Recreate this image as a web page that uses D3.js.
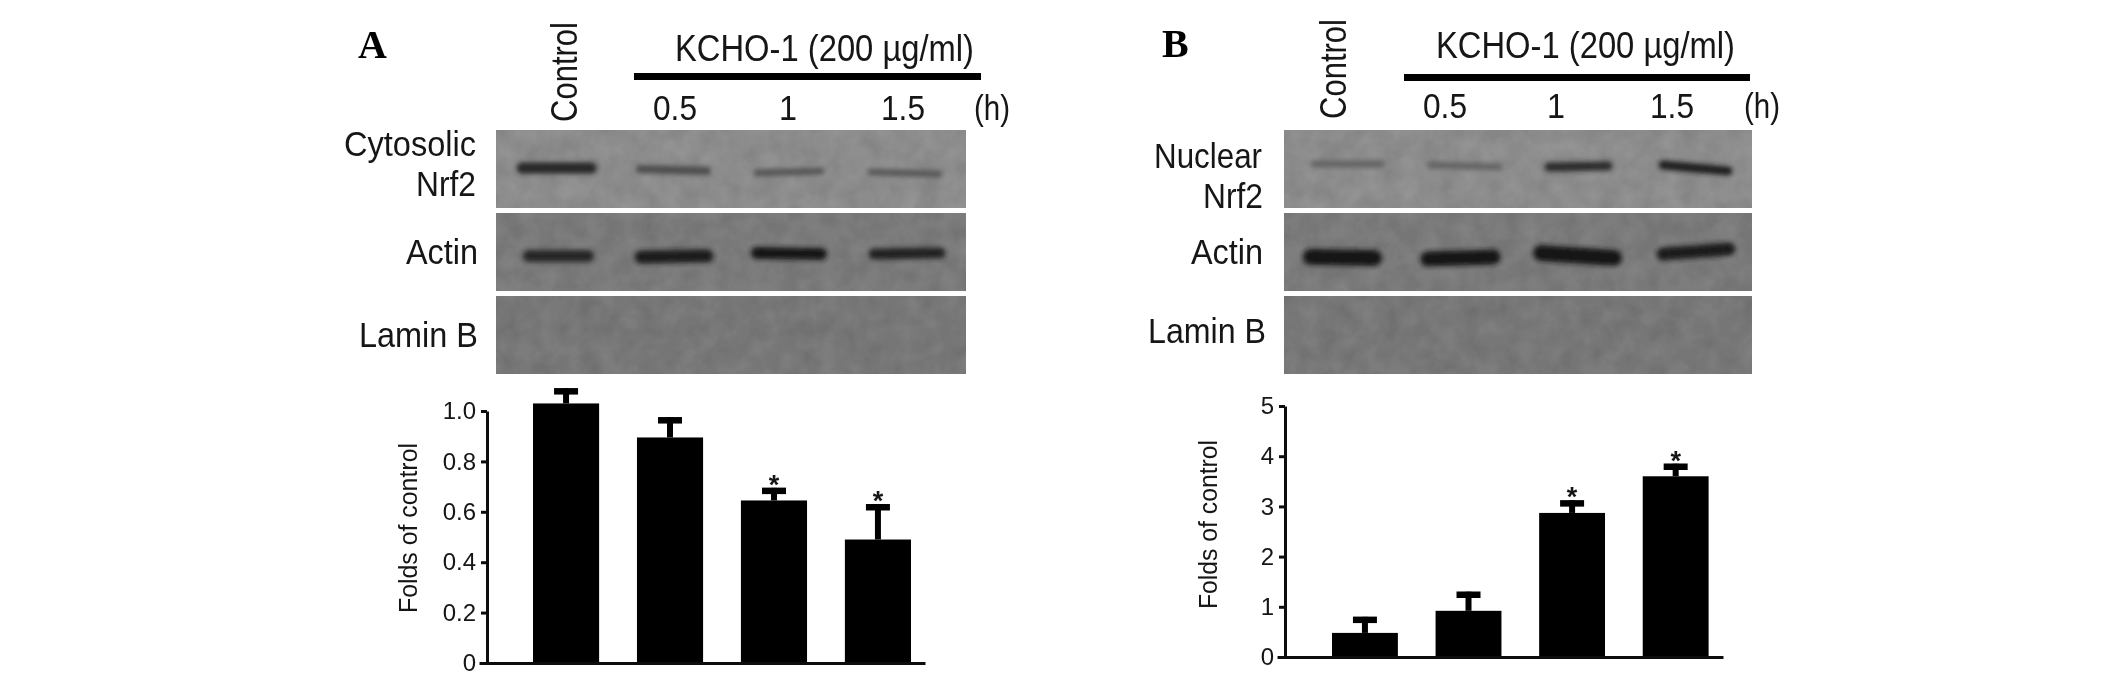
<!DOCTYPE html>
<html>
<head>
<meta charset="utf-8">
<script src="https://cdn.jsdelivr.net/npm/d3@7"></script>
<style>
html, body { margin: 0; padding: 0; background: #fff; }
svg { display: block; }
text { font-family: "Liberation Sans", Arial, sans-serif; fill: #141414; }
</style>
</head>
<body>
<div id="chart"></div>
<script>
// bar chart values
var groups = ['Control', '0.5', '1', '1.5'];
var foldsA = [1.03, 0.895, 0.645, 0.49];
var errTopA = [1.09, 0.975, 0.695, 0.63];
var sigA = [false, false, true, true];
var foldsB = [0.48, 0.92, 2.87, 3.6];
var errTopB = [0.8, 1.3, 3.12, 3.85];
var sigB = [false, false, true, true];
var ticksA = [0, 0.2, 0.4, 0.6, 0.8, 1.0];
var ticksB = [0, 1, 2, 3, 4, 5];

// band darkness per lane, read from the blots (0 = background, 1 = black)
var cytosolicNrf2 = [0.8, 0.5, 0.42, 0.4];
var nuclearNrf2 = [0.3, 0.3, 0.75, 0.85];
var actinA = [0.8, 0.88, 0.9, 0.82];
var actinB = [0.92, 0.9, 0.92, 0.88];
var laminB = [0, 0, 0, 0];

var svg = d3.select('#chart').append('svg')
	.attr('width', 2126)
	.attr('height', 680);

var defs = svg.append('defs');

// mottled gel background
var gel = defs.append('filter').attr('id', 'gel')
	.attr('x', 0).attr('y', 0).attr('width', 1).attr('height', 1)
	.attr('color-interpolation-filters', 'sRGB');
gel.append('feTurbulence').attr('type', 'fractalNoise')
	.attr('baseFrequency', 0.05).attr('numOctaves', 3).attr('seed', 4).attr('result', 'n');
gel.append('feColorMatrix').attr('in', 'n').attr('type', 'matrix')
	.attr('values', '1 0 0 0 0  1 0 0 0 0  1 0 0 0 0  0 0 0 0 1').attr('result', 'g');
gel.append('feComposite').attr('in', 'SourceGraphic').attr('in2', 'g')
	.attr('operator', 'arithmetic')
	.attr('k1', 0).attr('k2', 1).attr('k3', 0.09).attr('k4', -0.045);

// flat bands have an empty bbox, so the blur region has to be in page units
defs.append('filter').attr('id', 'bandBlur')
	.attr('filterUnits', 'userSpaceOnUse')
	.attr('x', 0).attr('y', 0).attr('width', 2126).attr('height', 680)
	.append('feGaussianBlur').attr('stdDeviation', 2.4);

defs.append('filter').attr('id', 'soft')
	.attr('filterUnits', 'userSpaceOnUse')
	.attr('x', 0).attr('y', 0).attr('width', 2126).attr('height', 680)
	.append('feGaussianBlur').attr('stdDeviation', 0.45);

var root = svg.append('g').attr('filter', 'url(#soft)');

var bandLine = d3.line().curve(d3.curveBasis);

function label(g, str, x, y, size, len, rotate) {
	var t = g.append('text')
		.attr('font-size', size)
		.attr('textLength', len)
		.attr('lengthAdjust', 'spacingAndGlyphs')
		.text(str);
	if (rotate) {
		t.attr('transform', 'translate(' + x + ',' + y + ') rotate(-90)');
	} else {
		t.attr('x', x).attr('y', y);
	}
	return t;
}

function drawHeader(g, p) {
	g.append('text')
		.attr('x', p.letter[0]).attr('y', p.letter[1])
		.attr('font-size', 40)
		.attr('font-weight', 'bold')
		.style('font-family', '"Liberation Serif", serif')
		.style('fill', '#000')
		.text(p.letter[2]);
	label(g, groups[0], p.control[0], p.control[1], 37, p.control[2], true);
	label(g, 'KCHO-1 (200 µg/ml)', p.kcho[0], p.kcho[1], 36, 299);
	g.append('rect')
		.attr('x', p.rule[0]).attr('y', p.rule[1])
		.attr('width', p.rule[2]).attr('height', 7)
		.attr('fill', '#000');
	p.hours.forEach(function (h, i) {
		var wide = groups[i + 1].length > 1 ? 44 : 18;
		label(g, groups[i + 1], h - wide / 2, p.hourY, 35, wide);
	});
	label(g, '(h)', p.hUnit - 18, p.hourY, 35, 36);
	p.rowLabels.forEach(function (d) {
		label(g, d[0], d[1], d[2], 35, d[3]);
	});
}

function drawBlot(g, p) {
	var rows = [
		{ y: 130, h: 78, fill: '#8c8c8c', dark: p.row1, geo: p.geo1 },
		{ y: 213, h: 78, fill: '#7a7a7a', dark: p.row2, geo: p.geo2 },
		{ y: 296, h: 78, fill: '#777777', dark: laminB, geo: p.geo2 }
	];
	var shade = d3.scaleLinear().domain([0, 1]).range(['#8a8a8a', '#0c0c0c']);
	rows.forEach(function (r) {
		g.append('rect')
			.attr('x', p.blot[0]).attr('y', r.y)
			.attr('width', p.blot[1] - p.blot[0]).attr('height', r.h)
			.attr('fill', r.fill)
			.attr('filter', 'url(#gel)');
		g.selectAll(null)
			.data(r.dark.map(function (v, i) { return { v: v, geo: r.geo[i] }; }).filter(function (d) { return d.v > 0; }))
			.enter().append('path')
			.attr('d', function (d) {
				var x0 = d.geo[0], x1 = d.geo[1];
				return bandLine([[x0, d.geo[2]], [(x0 + x1) / 2, (d.geo[2] + d.geo[3]) / 2], [x1, d.geo[3]]]);
			})
			.attr('fill', 'none')
			.attr('stroke', function (d) { return shade(d.v); })
			.attr('stroke-width', function (d) { return d.geo[4]; })
			.attr('stroke-linecap', 'round')
			.attr('filter', 'url(#bandBlur)');
	});
}

function drawBars(g, p) {
	var x = d3.scaleBand().domain(groups).range(p.barRange).paddingInner(0.364).paddingOuter(0);
	var y = d3.scaleLinear().domain(p.domain).range(p.yRange);
	var table = groups.map(function (name, i) {
		return { name: name, v: p.values[i], err: p.errTop[i], sig: p.sig[i] };
	});

	// stems and caps go under the bars
	g.selectAll('.stem').data(table).enter().append('line')
		.attr('class', 'stem')
		.attr('x1', function (d) { return x(d.name) + x.bandwidth() / 2; })
		.attr('x2', function (d) { return x(d.name) + x.bandwidth() / 2; })
		.attr('y1', function (d) { return y(d.v); })
		.attr('y2', function (d) { return y(d.err); })
		.attr('stroke', '#000')
		.attr('stroke-width', 6);
	g.selectAll('.cap').data(table).enter().append('line')
		.attr('class', 'cap')
		.attr('x1', function (d) { return x(d.name) + x.bandwidth() / 2 - 12; })
		.attr('x2', function (d) { return x(d.name) + x.bandwidth() / 2 + 12; })
		.attr('y1', function (d) { return y(d.err) + 3; })
		.attr('y2', function (d) { return y(d.err) + 3; })
		.attr('stroke', '#000')
		.attr('stroke-width', 6.5);
	g.selectAll('.bar').data(table).enter().append('rect')
		.attr('class', 'bar')
		.attr('x', function (d) { return x(d.name); })
		.attr('y', function (d) { return y(d.v); })
		.attr('width', x.bandwidth())
		.attr('height', function (d) { return y(0) - y(d.v); })
		.attr('fill', '#000');
	g.selectAll('.star').data(table.filter(function (d) { return d.sig; })).enter().append('text')
		.attr('class', 'star')
		.attr('x', function (d) { return x(d.name) + x.bandwidth() / 2; })
		.attr('y', function (d) { return y(d.err) + 6; })
		.attr('font-size', 27)
		.attr('font-weight', 'bold')
		.attr('text-anchor', 'middle')
		.text('*');

	var yAxis = d3.axisLeft(y)
		.tickValues(p.ticks)
		.tickSize(6)
		.tickSizeOuter(0)
		.tickPadding(5)
		.tickFormat(p.fmt);
	var ax = g.append('g')
		.attr('transform', 'translate(' + p.axisX + ',0)')
		.call(yAxis);
	ax.select('.domain').attr('stroke', '#111').attr('stroke-width', 3);
	ax.selectAll('.tick line').attr('stroke', '#111').attr('stroke-width', 3);
	ax.selectAll('.tick text').attr('font-size', 24).style('fill', '#141414')
		.style('font-family', '"Liberation Sans", Arial, sans-serif');

	// baseline runs past the last bar
	var xAxis = d3.axisBottom(d3.scaleLinear().domain([0, 1]).range([p.axisX - 8, p.baseEnd]))
		.tickValues([]).tickSizeOuter(0);
	var bx = g.append('g').attr('transform', 'translate(0,' + y(0) + ')').call(xAxis);
	bx.select('.domain').attr('stroke', '#111').attr('stroke-width', 3);

	label(g, 'Folds of control', p.ylabel[0], p.ylabel[1], 26, p.ylabel[2], true);
}

var panelA = root.append('g');
drawHeader(panelA, {
	letter: [358, 58, 'A'],
	control: [577, 122, 100],
	kcho: [675, 61],
	rule: [634, 73, 347],
	hours: [675, 788, 903],
	hUnit: 992,
	hourY: 120,
	rowLabels: [['Cytosolic', 344, 156, 132], ['Nrf2', 416, 196, 60], ['Actin', 406, 264, 72], ['Lamin B', 359, 347, 119]]
});
drawBlot(panelA, {
	blot: [496, 966],
	row1: cytosolicNrf2,
	row2: actinA,
	geo1: [[522, 591, 168, 168, 11], [640, 707, 169, 171, 8], [757, 821, 173, 171, 7], [871, 939, 172, 174, 7]],
	geo2: [[529, 588, 256, 256, 12], [641, 707, 257, 256, 13], [757, 821, 253, 254, 12], [874, 940, 254, 253, 11]]
});
drawBars(panelA, {
	barRange: [533, 911],
	domain: [0, 1],
	yRange: [663, 411],
	values: foldsA,
	errTop: errTopA,
	sig: sigA,
	ticks: ticksA,
	fmt: function (d) { return d === 0 ? '0' : d3.format('.1f')(d); },
	axisX: 487,
	baseEnd: 925,
	ylabel: [417, 613, 170]
});

var panelB = root.append('g');
drawHeader(panelB, {
	letter: [1162, 57, 'B'],
	control: [1346, 119, 100],
	kcho: [1436, 58],
	rule: [1404, 74, 346],
	hours: [1445, 1556, 1672],
	hUnit: 1762,
	hourY: 118,
	rowLabels: [['Nuclear', 1154, 168, 108], ['Nrf2', 1203, 208, 60], ['Actin', 1191, 264, 72], ['Lamin B', 1148, 343, 118]]
});
drawBlot(panelB, {
	blot: [1284, 1752],
	row1: nuclearNrf2,
	row2: actinB,
	geo1: [[1314, 1381, 164, 164, 7], [1431, 1499, 165, 167, 7], [1549, 1608, 167, 166, 9], [1663, 1728, 165, 171, 9]],
	geo2: [[1311, 1374, 257, 258, 16], [1428, 1493, 259, 257, 15], [1541, 1614, 253, 258, 16], [1663, 1729, 254, 249, 13]]
});
drawBars(panelB, {
	barRange: [1332, 1708.6],
	domain: [0, 5],
	yRange: [657, 406],
	values: foldsB,
	errTop: errTopB,
	sig: sigB,
	ticks: ticksB,
	fmt: d3.format('d'),
	axisX: 1285,
	baseEnd: 1723,
	ylabel: [1217, 609, 169]
});
</script>
</body>
</html>
